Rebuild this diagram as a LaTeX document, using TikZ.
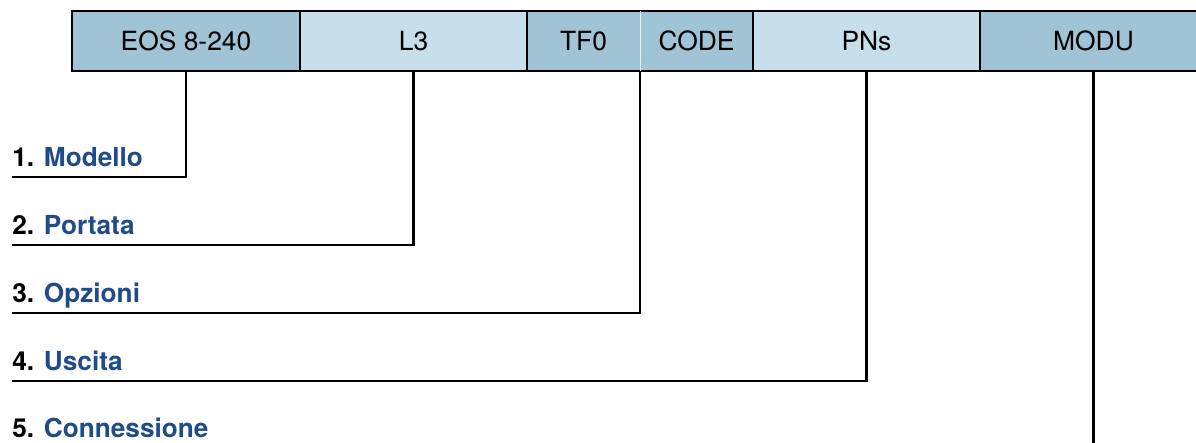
\documentclass[tikz,border=0pt]{standalone}
\usepackage{fontspec}
\setmainfont{TeX Gyre Heros}
\usetikzlibrary{positioning}

\definecolor{darkcell}{HTML}{A1C3D6}
\definecolor{lightcell}{HTML}{C6DFEB}
\definecolor{codeblue}{HTML}{1F4B8C}

\begin{document}
\begin{tikzpicture}[x=0.5pt,y=-0.5pt,node distance=0pt,
    cell/.style={inner sep=0pt,outer sep=0pt,minimum height=30pt,
      font=\fontsize{13.2}{15}\selectfont},
    lead/.style={line width=1.1pt},
    itemlabel/.style={anchor=base west,inner sep=0pt,
      font=\fontsize{13.1}{15}\selectfont\bfseries,text=codeblue}]

    \useasboundingbox (0,0) rectangle (1196,443);

    % the code fields
    \node [cell,fill=darkcell,minimum width=114pt,anchor=west] (eos) at (72,41) {EOS 8-240};
    \node [cell,fill=lightcell,minimum width=113.5pt,right=of eos] (l3) {L3};
    \node [cell,fill=darkcell,minimum width=56.5pt,right=of l3] (tf0) {TF0};
    \node [cell,fill=darkcell,minimum width=56.5pt,right=of tf0] (code) {CODE};
    \node [cell,fill=lightcell,minimum width=113.5pt,right=of code] (pns) {PNs};
    \node [cell,fill=darkcell,minimum width=113.5pt,right=of pns] (modu) {MODU};

    \draw [line width=1.3pt] (eos.north west) rectangle (modu.south east);
    \foreach \c in {eos,l3,code,pns}
        \draw [line width=1.1pt] (\c.north east) -- (\c.south east);
    \draw [line width=0.4pt,white!60!lightcell] (tf0.north east) -- (tf0.south east);

    % the legend
    \node [itemlabel] (n1) at (12,167) {\textcolor{black}{1.} Modello};
    \node [itemlabel] (n2) at (12,235) {\textcolor{black}{2.} Portata};
    \node [itemlabel] (n3) at (12,303) {\textcolor{black}{3.} Opzioni};
    \node [itemlabel] (n4) at (12,371) {\textcolor{black}{4.} Uscita};
    \node [itemlabel] (n5) at (12,438) {\textcolor{black}{5.} Connessione};

    \coordinate (s1) at (12,177);
    \coordinate (s2) at (12,245);
    \coordinate (s3) at (12,313);
    \coordinate (s4) at (12,381);
    \coordinate (s5) at (12,449);

    \draw [lead] (eos.south) |- (s1);
    \draw [lead] (l3.south) |- (s2);
    \draw [lead] (tf0.south east) |- (s3);
    \draw [lead] (pns.south) |- (s4);
    \draw [lead] (modu.south) |- (s5);

\end{tikzpicture}
\end{document}
